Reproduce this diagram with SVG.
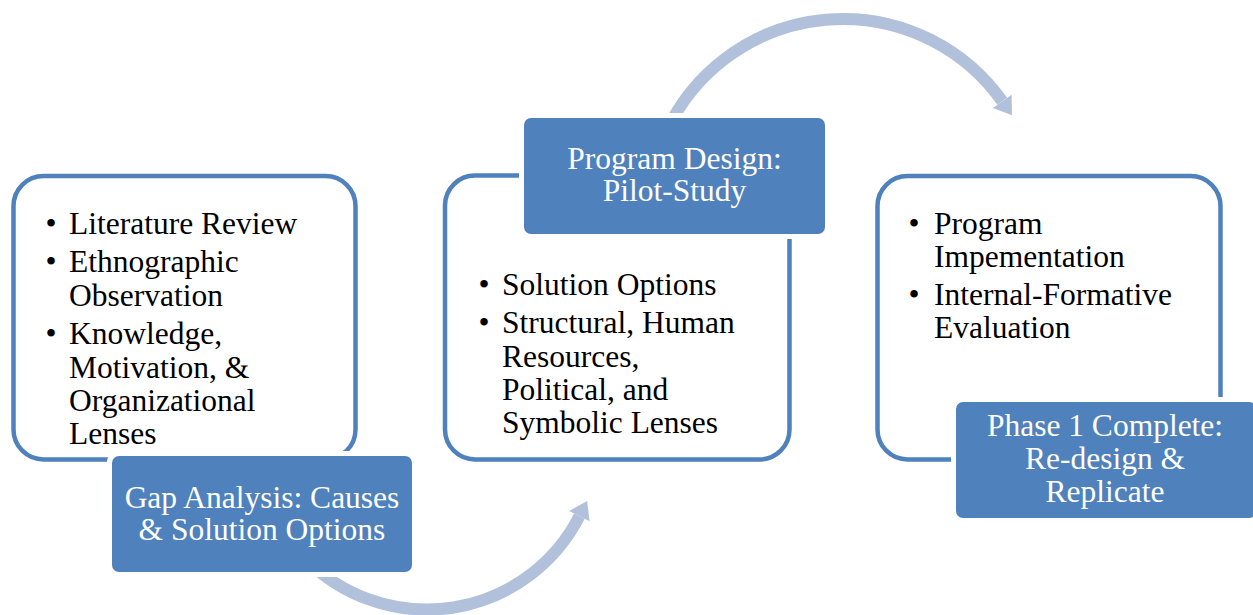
<svg xmlns="http://www.w3.org/2000/svg" width="1253" height="615" viewBox="0 0 1253 615">
<defs>
<style>
.outer{fill:#FFFFFF;stroke:#4F81BD;stroke-width:4.5}
.gap{fill:#FFFFFF}
.label{fill:#4F81BD}
.arc{fill:none;stroke:#B2C1DB;stroke-width:12}
.head{fill:#B2C1DB}
.t{font-family:"Liberation Serif","Times New Roman",serif;font-size:31.5px;fill:#000000}
.lt{font-family:"Liberation Serif","Times New Roman",serif;font-size:31.5px;fill:#FFFFFF;text-anchor:middle}
</style>
</defs>
<rect width="1253" height="615" fill="#FFFFFF"/>
<g id="node1">
<rect class="outer" x="13.5" y="176" width="342" height="283.5" rx="30"/>
<text class="t"><tspan x="45.5" y="234">•</tspan><tspan x="69" y="234">Literature Review</tspan></text>
<text class="t"><tspan x="45.5" y="272">•</tspan><tspan x="69" y="272">Ethnographic</tspan><tspan x="69" y="306">Observation</tspan></text>
<text class="t"><tspan x="45.5" y="344">•</tspan><tspan x="69" y="344">Knowledge,</tspan><tspan x="69" y="378">Motivation, &amp;</tspan><tspan x="69" y="411">Organizational</tspan><tspan x="69" y="444">Lenses</tspan></text>
</g>
<g id="node2">
<rect class="outer" x="445" y="175.5" width="344.5" height="284" rx="30"/>
<text class="t"><tspan x="478.5" y="295">•</tspan><tspan x="502" y="295">Solution Options</tspan></text>
<text class="t"><tspan x="478.5" y="333">•</tspan><tspan x="502" y="333">Structural, Human</tspan><tspan x="502" y="367">Resources,</tspan><tspan x="502" y="400">Political, and</tspan><tspan x="502" y="433">Symbolic Lenses</tspan></text>
</g>
<g id="node3">
<rect class="outer" x="877.5" y="176" width="343" height="283.5" rx="30"/>
<text class="t"><tspan x="908.5" y="234">•</tspan><tspan x="934" y="234">Program</tspan><tspan x="934" y="267">Impementation</tspan></text>
<text class="t"><tspan x="908.5" y="305">•</tspan><tspan x="934" y="305">Internal-Formative</tspan><tspan x="934" y="338">Evaluation</tspan></text>
</g>
<g id="connectors">
<path class="arc" d="M 306 559.4 A 171 171 0 0 0 579.4 516.1"/>
<polygon class="head" points="589.6,521.3 569.2,510.9 587.1,501"/>
<path class="arc" d="M 666.3 131.6 A 195 195 0 0 1 1002.2 101.3"/>
<polygon class="head" points="1011.6,94.7 992.8,107.9 1012,115.2"/>
</g>
<g id="label1">
<rect class="gap" x="107" y="451" width="310" height="126" rx="11"/>
<rect class="label" x="112" y="456" width="300" height="116" rx="7"/>
<text class="lt"><tspan x="262" y="508">Gap Analysis: Causes</tspan><tspan x="262" y="540">&amp; Solution Options</tspan></text>
</g>
<g id="label2">
<rect class="gap" x="519" y="113" width="311" height="126" rx="11"/>
<rect class="label" x="524" y="118" width="301" height="116" rx="7"/>
<text class="lt"><tspan x="674.5" y="169">Program Design:</tspan><tspan x="674.5" y="201">Pilot-Study</tspan></text>
</g>
<g id="label3">
<rect class="gap" x="951" y="397" width="310" height="126" rx="11"/>
<rect class="label" x="956" y="402" width="300" height="116" rx="7"/>
<text class="lt"><tspan x="1105" y="436">Phase 1 Complete:</tspan><tspan x="1105" y="469">Re-design &amp;</tspan><tspan x="1105" y="502">Replicate</tspan></text>
</g>
</svg>
